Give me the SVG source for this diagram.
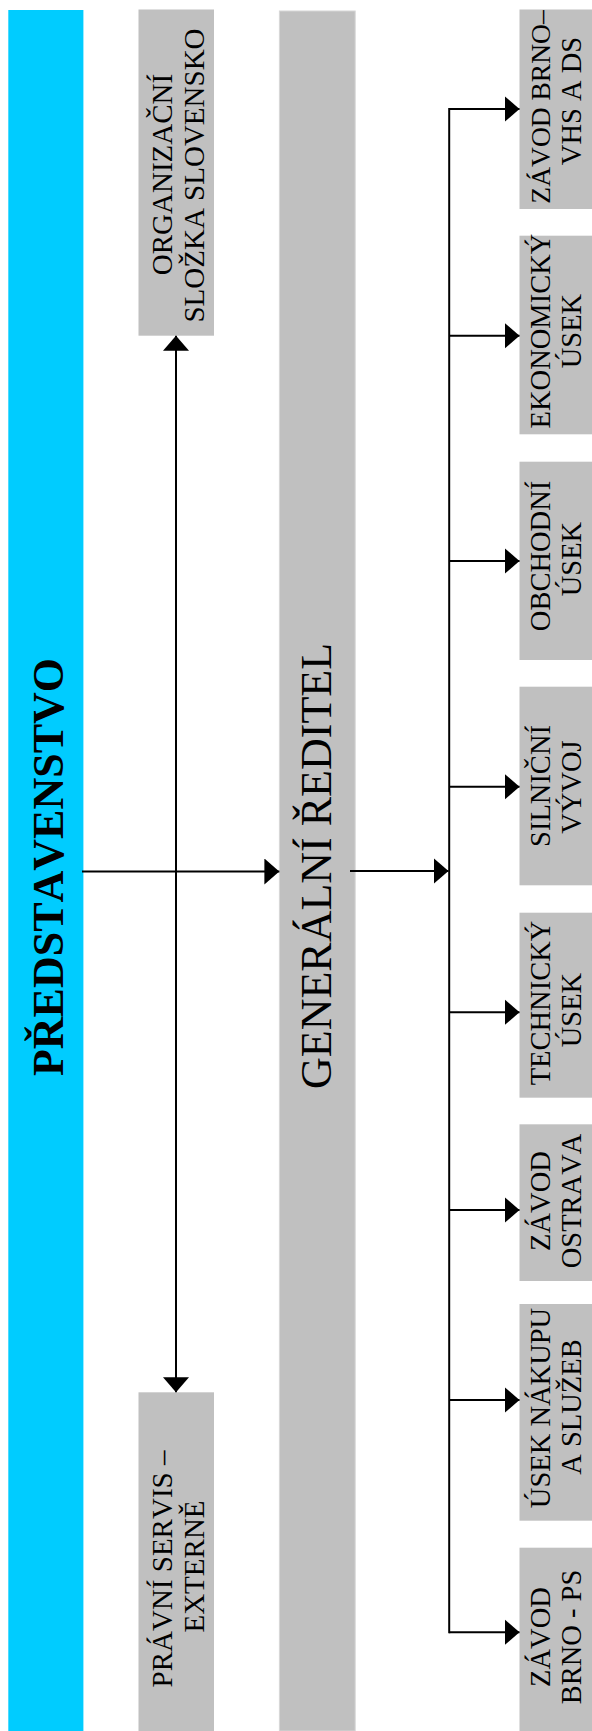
<svg xmlns="http://www.w3.org/2000/svg" width="592" height="1731" viewBox="0 0 592 1731">
<style>
.box{fill:#c0c0c0}
.t{font-family:"Liberation Serif","Times New Roman",serif;fill:#000;font-kerning:none;text-anchor:middle}
.s{font-size:28.5px}
.m{font-size:29px}
.big{font-size:44px}
.conn line{stroke:#000;stroke-width:2;fill:none}
</style>
<defs>
<marker id="ah" markerUnits="userSpaceOnUse" viewBox="0 0 15 26" markerWidth="15" markerHeight="26" refX="15" refY="13" orient="auto-start-reverse">
<path d="M0,0 L15,13 L0,26 z" fill="#000"/>
</marker>
</defs>
<rect width="592" height="1731" fill="#fff"/>

<g id="predstavenstvo">
<rect x="8.3" y="10" width="75.1" height="1721" fill="#00ccff"/>
<text class="t big" font-weight="bold" transform="translate(62.5,867) rotate(-90)">PŘEDSTAVENSTVO</text>
</g>

<g id="organizacni-slozka">
<rect class="box" x="138.5" y="9.5" width="75.5" height="326.2"/>
<text class="t m" transform="translate(171.5,174.5) rotate(-90)">ORGANIZAČNÍ</text>
<text class="t m" transform="translate(204,175.5) rotate(-90)">SLOŽKA  SLOVENSKO</text>
</g>

<g id="pravni-servis">
<rect class="box" x="138.5" y="1392.3" width="75.5" height="338.7"/>
<text class="t m" transform="translate(171.5,1569) rotate(-90)">PRÁVNÍ SERVIS –</text>
<text class="t m" transform="translate(204,1566.5) rotate(-90)">EXTERNĚ</text>
</g>

<g id="generalni-reditel">
<rect class="box" x="279.4" y="11" width="75.8" height="1720" stroke="#d6d6d6" stroke-width="1"/>
<text class="t big" transform="translate(331,866) rotate(-90)">GENERÁLNÍ ŘEDITEL</text>
</g>

<g id="zavod-brno-vhs">
<rect class="box" x="519.5" y="9.5" width="73" height="199.5"/>
<text class="t s" style="font-size:27.5px" transform="translate(549.5,107) rotate(-90)">ZÁVOD BRNO–</text>
<text class="t s" transform="translate(580.5,101) rotate(-90)">VHS A DS</text>
</g>

<g id="ekonomicky-usek">
<rect class="box" x="519.5" y="235.7" width="73" height="198.6"/>
<text class="t s" transform="translate(549.5,331) rotate(-90)">EKONOMICKÝ</text>
<text class="t s" transform="translate(580.5,331) rotate(-90)">ÚSEK</text>
</g>

<g id="obchodni-usek">
<rect class="box" x="519.5" y="461.7" width="73" height="198.3"/>
<text class="t s" transform="translate(549.5,556) rotate(-90)">OBCHODNÍ</text>
<text class="t s" transform="translate(580.5,559) rotate(-90)">ÚSEK</text>
</g>

<g id="silnicni-vyvoj">
<rect class="box" x="519.5" y="686.7" width="73" height="198.6"/>
<text class="t s" transform="translate(549.5,786) rotate(-90)">SILNIČNÍ</text>
<text class="t s" transform="translate(580.5,787) rotate(-90)">VÝVOJ</text>
</g>

<g id="technicky-usek">
<rect class="box" x="519.5" y="912.7" width="73" height="185"/>
<text class="t s" transform="translate(549.5,1003) rotate(-90)">TECHNICKÝ</text>
<text class="t s" transform="translate(580.5,1010) rotate(-90)">ÚSEK</text>
</g>

<g id="zavod-ostrava">
<rect class="box" x="519.5" y="1124.3" width="73" height="156.7"/>
<text class="t s" transform="translate(549.5,1201) rotate(-90)">ZÁVOD</text>
<text class="t s" transform="translate(580.5,1201) rotate(-90)">OSTRAVA</text>
</g>

<g id="usek-nakupu">
<rect class="box" x="519.5" y="1304" width="73" height="216.7"/>
<text class="t s" transform="translate(549.5,1408) rotate(-90)">ÚSEK NÁKUPU</text>
<text class="t s" transform="translate(580.5,1407) rotate(-90)">A SLUŽEB</text>
</g>

<g id="zavod-brno-ps">
<rect class="box" x="519.5" y="1547.7" width="73" height="183.3"/>
<text class="t s" transform="translate(549.5,1637) rotate(-90)">ZÁVOD</text>
<text class="t s" transform="translate(580.5,1637) rotate(-90)">BRNO - PS</text>
</g>

<g id="connectors" class="conn">
<line x1="82" y1="871.5" x2="279.4" y2="871.5" marker-end="url(#ah)"/>
<line x1="176" y1="335.7" x2="176" y2="1392.3" marker-start="url(#ah)" marker-end="url(#ah)"/>
<line x1="350" y1="871" x2="448.5" y2="871" marker-end="url(#ah)"/>
<line x1="449.2" y1="108" x2="449.2" y2="1633.3"/>
<line x1="449.2" y1="109" x2="519.5" y2="109" marker-end="url(#ah)"/>
<line x1="449.2" y1="335.7" x2="519.5" y2="335.7" marker-end="url(#ah)"/>
<line x1="449.2" y1="561" x2="519.5" y2="561" marker-end="url(#ah)"/>
<line x1="449.2" y1="786.7" x2="519.5" y2="786.7" marker-end="url(#ah)"/>
<line x1="449.2" y1="1012.3" x2="519.5" y2="1012.3" marker-end="url(#ah)"/>
<line x1="449.2" y1="1210" x2="519.5" y2="1210" marker-end="url(#ah)"/>
<line x1="449.2" y1="1400" x2="519.5" y2="1400" marker-end="url(#ah)"/>
<line x1="449.2" y1="1632.3" x2="519.5" y2="1632.3" marker-end="url(#ah)"/>
</g>
</svg>
